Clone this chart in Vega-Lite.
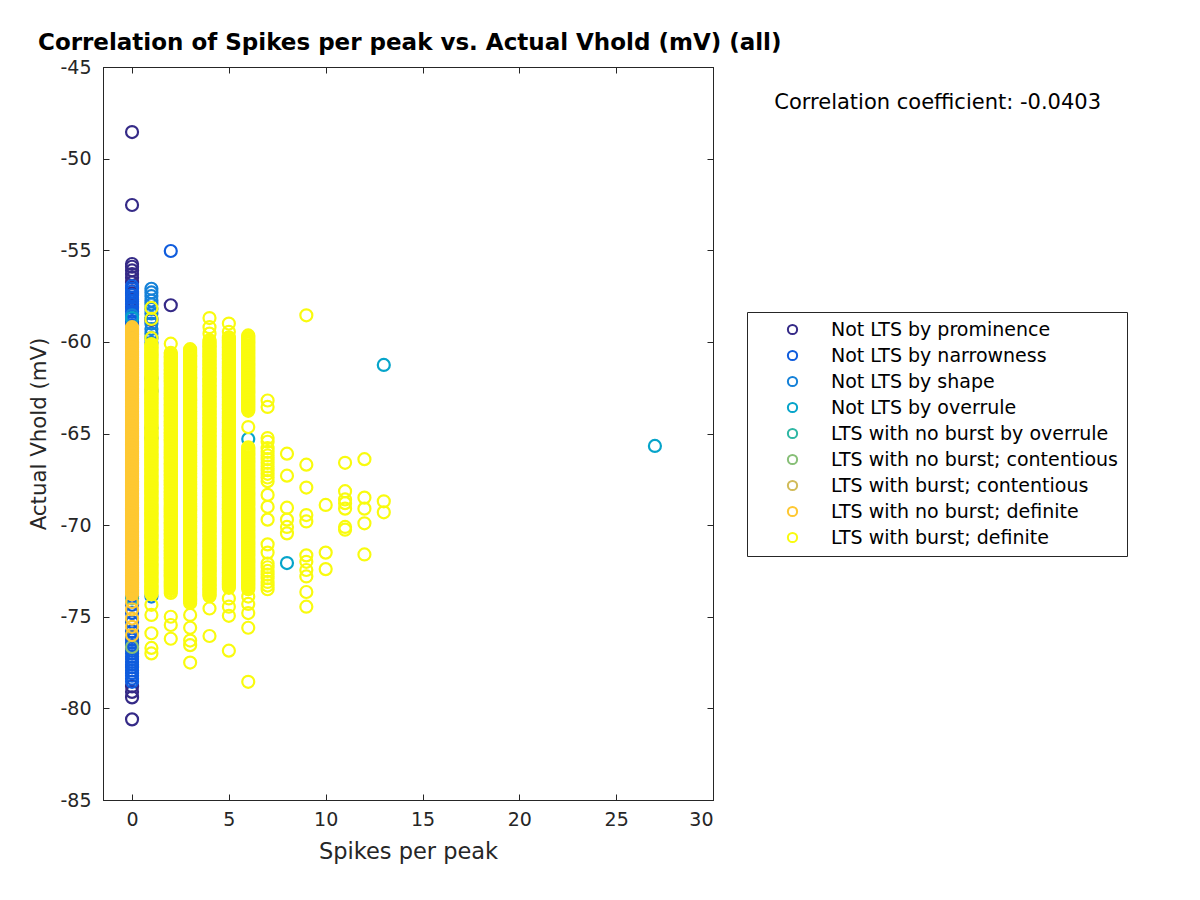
{
"$schema": "https://vega.github.io/schema/vega-lite/v6.json",
"width": 610,
"height": 733,
"autosize": {"type": "none"},
"padding": {"left": 103, "top": 67, "right": 487, "bottom": 100},
"background": "white",
"config": {
  "font": "DejaVu Sans",
  "locale": {"number": {"decimal": ".", "thousands": ",", "grouping": [3], "currency": ["$", ""], "minus": "-"}},
  "view": {"stroke": "#262626", "strokeWidth": 1},
  "axis": {"grid": false, "domainColor": "#262626", "tickColor": "#262626", "labelColor": "#262626", "titleColor": "#262626", "labelFont": "DejaVu Sans", "titleFont": "DejaVu Sans", "labelFontSize": 19, "titleFontSize": 21, "titleFontWeight": "normal", "tickSize": -6, "labelPadding": 16},
  "legend": {"title": null, "orient": "none", "legendX": 644, "legendY": 245, "strokeColor": "#262626", "fillColor": "white", "padding": 8, "labelFontSize": 19, "labelFont": "DejaVu Sans", "labelColor": "black", "symbolType": "circle", "symbolSize": 85, "symbolStrokeWidth": 2, "symbolOffset": 28, "labelOffset": 29, "rowPadding": 6, "labelLimit": 400}
},
"title": {"text": "Correlation of Spikes per peak vs. Actual Vhold (mV) (all)", "anchor": "start", "frame": "group", "dx": -65, "dy": 5, "offset": 8, "fontSize": 23, "fontWeight": "bold", "color": "black", "font": "DejaVu Sans"},
"resolve": {"axis": {"x": "independent", "y": "independent"}},
"datasets": {
  "classes": [
    {"k": 1, "label": "Not LTS by prominence"},
    {"k": 2, "label": "Not LTS by narrowness"},
    {"k": 3, "label": "Not LTS by shape"},
    {"k": 4, "label": "Not LTS by overrule"},
    {"k": 5, "label": "LTS with no burst by overrule"},
    {"k": 6, "label": "LTS with no burst; contentious"},
    {"k": 7, "label": "LTS with burst; contentious"},
    {"k": 8, "label": "LTS with no burst; definite"},
    {"k": 9, "label": "LTS with burst; definite"}
  ],
  "pts": [
{"s":0,"v":-48.55,"k":1},{"s":0,"v":-52.53,"k":1},{"s":0,"v":-55.75,"k":1},{"s":0,"v":-55.9,"k":1},{"s":0,"v":-56.1,"k":1},{"s":0,"v":-56.3,"k":1},{"s":0,"v":-56.5,"k":1},{"s":0,"v":-56.75,"k":1},{"s":0,"v":-57.05,"k":1},{"s":0,"v":-57.35,"k":1},{"s":0,"v":-57.7,"k":1},{"s":0,"v":-58.1,"k":1},{"s":0,"v":-78.8,"k":1},{"s":0,"v":-79.1,"k":1},{"s":0,"v":-79.4,"k":1},{"s":0,"v":-80.6,"k":1},{"s":1,"v":-58.8,"k":1},{"s":2,"v":-58.0,"k":1},
{"s":2,"v":-55.04,"k":2},
{"s":0,"v":-56.95,"k":2},{"s":0,"v":-57.1,"k":2},{"s":0,"v":-57.25,"k":2},{"s":0,"v":-57.45,"k":2},{"s":0,"v":-57.6,"k":2},{"s":0,"v":-57.8,"k":2},{"s":0,"v":-57.95,"k":2},{"s":0,"v":-58.15,"k":2},{"s":0,"v":-58.35,"k":2},{"s":0,"v":-58.5,"k":2},{"s":0,"v":-58.7,"k":2},{"s":0,"v":-58.9,"k":2},{"s":0,"v":-59.1,"k":2},
{"s":0,"v":-73.9,"k":2},{"s":0,"v":-74.35,"k":2},{"s":0,"v":-74.8,"k":2},{"s":0,"v":-75.3,"k":2},{"s":0,"v":-75.8,"k":2},{"s":0,"v":-76.1,"k":2},{"s":0,"v":-76.25,"k":2},{"s":0,"v":-76.42,"k":2},{"s":0,"v":-76.55,"k":2},{"s":0,"v":-76.72,"k":2},{"s":0,"v":-76.86,"k":2},{"s":0,"v":-77.0,"k":2},{"s":0,"v":-77.18,"k":2},{"s":0,"v":-77.31,"k":2},{"s":0,"v":-77.47,"k":2},{"s":0,"v":-77.62,"k":2},{"s":0,"v":-77.76,"k":2},{"s":0,"v":-77.93,"k":2},{"s":0,"v":-78.08,"k":2},{"s":0,"v":-78.22,"k":2},{"s":0,"v":-78.38,"k":2},{"s":0,"v":-78.55,"k":2},
{"s":0,"v":-58.55,"k":3},
{"s":1,"v":-57.1,"k":3},{"s":1,"v":-57.3,"k":3},{"s":1,"v":-57.5,"k":3},{"s":1,"v":-57.75,"k":3},{"s":1,"v":-57.95,"k":3},{"s":1,"v":-58.2,"k":3},{"s":1,"v":-58.45,"k":3},{"s":1,"v":-58.7,"k":3},{"s":1,"v":-59.0,"k":3},{"s":1,"v":-59.3,"k":3},{"s":1,"v":-59.55,"k":3},{"s":1,"v":-59.8,"k":3},{"s":1,"v":-60.05,"k":3},{"s":1,"v":-62.0,"k":3},{"s":1,"v":-62.7,"k":3},{"s":1,"v":-64.7,"k":3},{"s":1,"v":-65.25,"k":3},{"s":1,"v":-73.9,"k":3},
{"s":0,"v":-58.7,"k":4},{"s":6,"v":-65.3,"k":4},{"s":8,"v":-72.07,"k":4},{"s":13,"v":-61.26,"k":4},{"s":27,"v":-65.68,"k":4},
{"s":0,"v":-74.0,"k":5},
{"s":0,"v":-76.65,"k":6},
{"s":0,"v":-59.6,"k":7},
{"s":0,"v":-59.2,"k":8},{"s":0,"v":-59.34,"k":8},{"s":0,"v":-59.5,"k":8},{"s":0,"v":-59.63,"k":8},{"s":0,"v":-59.79,"k":8},{"s":0,"v":-59.95,"k":8},{"s":0,"v":-60.08,"k":8},{"s":0,"v":-60.24,"k":8},{"s":0,"v":-60.39,"k":8},{"s":0,"v":-60.52,"k":8},{"s":0,"v":-60.68,"k":8},{"s":0,"v":-60.83,"k":8},{"s":0,"v":-60.97,"k":8},{"s":0,"v":-61.13,"k":8},{"s":0,"v":-61.27,"k":8},{"s":0,"v":-61.42,"k":8},{"s":0,"v":-61.58,"k":8},{"s":0,"v":-61.71,"k":8},{"s":0,"v":-61.87,"k":8},{"s":0,"v":-62.02,"k":8},{"s":0,"v":-62.16,"k":8},{"s":0,"v":-62.32,"k":8},{"s":0,"v":-62.46,"k":8},{"s":0,"v":-62.61,"k":8},{"s":0,"v":-62.77,"k":8},{"s":0,"v":-62.9,"k":8},{"s":0,"v":-63.06,"k":8},{"s":0,"v":-63.21,"k":8},{"s":0,"v":-63.35,"k":8},{"s":0,"v":-63.51,"k":8},{"s":0,"v":-63.65,"k":8},{"s":0,"v":-63.8,"k":8},{"s":0,"v":-63.96,"k":8},{"s":0,"v":-64.09,"k":8},{"s":0,"v":-64.25,"k":8},{"s":0,"v":-64.4,"k":8},{"s":0,"v":-64.54,"k":8},{"s":0,"v":-64.7,"k":8},{"s":0,"v":-64.84,"k":8},{"s":0,"v":-64.99,"k":8},{"s":0,"v":-65.15,"k":8},{"s":0,"v":-65.28,"k":8},{"s":0,"v":-65.44,"k":8},{"s":0,"v":-65.59,"k":8},{"s":0,"v":-65.73,"k":8},{"s":0,"v":-65.89,"k":8},{"s":0,"v":-66.03,"k":8},{"s":0,"v":-66.18,"k":8},{"s":0,"v":-66.34,"k":8},{"s":0,"v":-66.47,"k":8},{"s":0,"v":-66.63,"k":8},{"s":0,"v":-66.78,"k":8},{"s":0,"v":-66.92,"k":8},{"s":0,"v":-67.08,"k":8},{"s":0,"v":-67.22,"k":8},{"s":0,"v":-67.37,"k":8},{"s":0,"v":-67.53,"k":8},{"s":0,"v":-67.66,"k":8},{"s":0,"v":-67.82,"k":8},{"s":0,"v":-67.97,"k":8},{"s":0,"v":-68.11,"k":8},{"s":0,"v":-68.27,"k":8},{"s":0,"v":-68.41,"k":8},{"s":0,"v":-68.56,"k":8},{"s":0,"v":-68.72,"k":8},{"s":0,"v":-68.85,"k":8},{"s":0,"v":-69.01,"k":8},{"s":0,"v":-69.16,"k":8},{"s":0,"v":-69.3,"k":8},{"s":0,"v":-69.46,"k":8},{"s":0,"v":-69.6,"k":8},{"s":0,"v":-69.75,"k":8},{"s":0,"v":-69.91,"k":8},{"s":0,"v":-70.04,"k":8},{"s":0,"v":-70.2,"k":8},{"s":0,"v":-70.35,"k":8},{"s":0,"v":-70.49,"k":8},{"s":0,"v":-70.65,"k":8},{"s":0,"v":-70.79,"k":8},{"s":0,"v":-70.94,"k":8},{"s":0,"v":-71.1,"k":8},{"s":0,"v":-71.23,"k":8},{"s":0,"v":-71.39,"k":8},{"s":0,"v":-71.54,"k":8},{"s":0,"v":-71.68,"k":8},{"s":0,"v":-71.84,"k":8},{"s":0,"v":-71.98,"k":8},{"s":0,"v":-72.13,"k":8},{"s":0,"v":-72.29,"k":8},{"s":0,"v":-72.42,"k":8},{"s":0,"v":-72.58,"k":8},{"s":0,"v":-72.73,"k":8},{"s":0,"v":-72.87,"k":8},{"s":0,"v":-73.03,"k":8},{"s":0,"v":-73.17,"k":8},{"s":0,"v":-73.32,"k":8},{"s":0,"v":-73.48,"k":8},{"s":0,"v":-73.61,"k":8},{"s":0,"v":-73.77,"k":8},{"s":0,"v":-74.2,"k":8},{"s":0,"v":-74.6,"k":8},{"s":0,"v":-75.1,"k":8},{"s":0,"v":-75.55,"k":8},{"s":0,"v":-76.0,"k":8},
{"s":0,"v":-59.27,"k":8},{"s":0,"v":-59.42,"k":8},{"s":0,"v":-59.56,"k":8},{"s":0,"v":-59.71,"k":8},{"s":0,"v":-59.87,"k":8},{"s":0,"v":-60.01,"k":8},{"s":0,"v":-60.16,"k":8},{"s":0,"v":-60.31,"k":8},{"s":0,"v":-60.45,"k":8},{"s":0,"v":-60.6,"k":8},{"s":0,"v":-60.75,"k":8},{"s":0,"v":-60.9,"k":8},{"s":0,"v":-61.05,"k":8},{"s":0,"v":-61.2,"k":8},{"s":0,"v":-61.35,"k":8},{"s":0,"v":-61.5,"k":8},{"s":0,"v":-61.64,"k":8},{"s":0,"v":-61.79,"k":8},{"s":0,"v":-61.94,"k":8},{"s":0,"v":-62.09,"k":8},{"s":0,"v":-62.24,"k":8},{"s":0,"v":-62.39,"k":8},{"s":0,"v":-62.54,"k":8},{"s":0,"v":-62.69,"k":8},{"s":0,"v":-62.83,"k":8},{"s":0,"v":-62.98,"k":8},{"s":0,"v":-63.13,"k":8},{"s":0,"v":-63.28,"k":8},{"s":0,"v":-63.43,"k":8},{"s":0,"v":-63.58,"k":8},{"s":0,"v":-63.72,"k":8},{"s":0,"v":-63.88,"k":8},{"s":0,"v":-64.03,"k":8},{"s":0,"v":-64.17,"k":8},{"s":0,"v":-64.32,"k":8},{"s":0,"v":-64.47,"k":8},{"s":0,"v":-64.62,"k":8},{"s":0,"v":-64.77,"k":8},{"s":0,"v":-64.91,"k":8},{"s":0,"v":-65.07,"k":8},{"s":0,"v":-65.21,"k":8},{"s":0,"v":-65.36,"k":8},{"s":0,"v":-65.51,"k":8},{"s":0,"v":-65.66,"k":8},{"s":0,"v":-65.81,"k":8},{"s":0,"v":-65.96,"k":8},{"s":0,"v":-66.1,"k":8},{"s":0,"v":-66.26,"k":8},{"s":0,"v":-66.4,"k":8},{"s":0,"v":-66.55,"k":8},{"s":0,"v":-66.7,"k":8},{"s":0,"v":-66.85,"k":8},{"s":0,"v":-67.0,"k":8},{"s":0,"v":-67.15,"k":8},{"s":0,"v":-67.3,"k":8},{"s":0,"v":-67.45,"k":8},{"s":0,"v":-67.6,"k":8},{"s":0,"v":-67.74,"k":8},{"s":0,"v":-67.89,"k":8},{"s":0,"v":-68.04,"k":8},{"s":0,"v":-68.19,"k":8},{"s":0,"v":-68.34,"k":8},{"s":0,"v":-68.49,"k":8},{"s":0,"v":-68.64,"k":8},{"s":0,"v":-68.78,"k":8},{"s":0,"v":-68.93,"k":8},{"s":0,"v":-69.08,"k":8},{"s":0,"v":-69.23,"k":8},{"s":0,"v":-69.38,"k":8},{"s":0,"v":-69.53,"k":8},{"s":0,"v":-69.68,"k":8},{"s":0,"v":-69.83,"k":8},{"s":0,"v":-69.97,"k":8},{"s":0,"v":-70.12,"k":8},{"s":0,"v":-70.27,"k":8},{"s":0,"v":-70.42,"k":8},{"s":0,"v":-70.57,"k":8},{"s":0,"v":-70.72,"k":8},{"s":0,"v":-70.87,"k":8},{"s":0,"v":-71.02,"k":8},{"s":0,"v":-71.16,"k":8},{"s":0,"v":-71.31,"k":8},{"s":0,"v":-71.46,"k":8},{"s":0,"v":-71.61,"k":8},{"s":0,"v":-71.76,"k":8},{"s":0,"v":-71.91,"k":8},{"s":0,"v":-72.05,"k":8},{"s":0,"v":-72.21,"k":8},{"s":0,"v":-72.35,"k":8},{"s":0,"v":-72.5,"k":8},{"s":0,"v":-72.65,"k":8},{"s":0,"v":-72.8,"k":8},{"s":0,"v":-72.95,"k":8},{"s":0,"v":-73.1,"k":8},{"s":0,"v":-73.25,"k":8},{"s":0,"v":-73.4,"k":8},{"s":0,"v":-73.54,"k":8},{"s":0,"v":-73.69,"k":8},
{"s":1,"v":-58.15,"k":9},{"s":1,"v":-58.75,"k":9},{"s":1,"v":-59.8,"k":9},{"s":1,"v":-60.12,"k":9},{"s":1,"v":-60.27,"k":9},{"s":1,"v":-60.41,"k":9},{"s":1,"v":-60.58,"k":9},{"s":1,"v":-60.71,"k":9},{"s":1,"v":-60.86,"k":9},{"s":1,"v":-61.03,"k":9},{"s":1,"v":-61.15,"k":9},{"s":1,"v":-61.31,"k":9},{"s":1,"v":-61.46,"k":9},{"s":1,"v":-61.6,"k":9},{"s":1,"v":-61.77,"k":9},{"s":1,"v":-61.9,"k":9},{"s":1,"v":-62.06,"k":9},{"s":1,"v":-62.21,"k":9},{"s":1,"v":-62.35,"k":9},{"s":1,"v":-62.52,"k":9},{"s":1,"v":-62.66,"k":9},{"s":1,"v":-62.8,"k":9},{"s":1,"v":-62.97,"k":9},{"s":1,"v":-63.1,"k":9},{"s":1,"v":-63.26,"k":9},{"s":1,"v":-63.41,"k":9},{"s":1,"v":-63.55,"k":9},{"s":1,"v":-63.72,"k":9},{"s":1,"v":-63.86,"k":9},{"s":1,"v":-64.0,"k":9},{"s":1,"v":-64.17,"k":9},{"s":1,"v":-64.3,"k":9},{"s":1,"v":-64.46,"k":9},{"s":1,"v":-64.61,"k":9},{"s":1,"v":-64.75,"k":9},{"s":1,"v":-64.92,"k":9},{"s":1,"v":-65.06,"k":9},{"s":1,"v":-65.2,"k":9},{"s":1,"v":-65.37,"k":9},{"s":1,"v":-65.5,"k":9},{"s":1,"v":-65.66,"k":9},{"s":1,"v":-65.81,"k":9},{"s":1,"v":-65.95,"k":9},{"s":1,"v":-66.12,"k":9},{"s":1,"v":-66.26,"k":9},{"s":1,"v":-66.4,"k":9},{"s":1,"v":-66.57,"k":9},{"s":1,"v":-66.7,"k":9},{"s":1,"v":-66.86,"k":9},{"s":1,"v":-67.01,"k":9},{"s":1,"v":-67.15,"k":9},{"s":1,"v":-67.32,"k":9},{"s":1,"v":-67.46,"k":9},{"s":1,"v":-67.6,"k":9},{"s":1,"v":-67.77,"k":9},{"s":1,"v":-67.9,"k":9},{"s":1,"v":-68.06,"k":9},{"s":1,"v":-68.21,"k":9},{"s":1,"v":-68.35,"k":9},{"s":1,"v":-68.52,"k":9},{"s":1,"v":-68.66,"k":9},{"s":1,"v":-68.8,"k":9},{"s":1,"v":-68.97,"k":9},{"s":1,"v":-69.1,"k":9},{"s":1,"v":-69.26,"k":9},{"s":1,"v":-69.41,"k":9},{"s":1,"v":-69.55,"k":9},{"s":1,"v":-69.72,"k":9},{"s":1,"v":-69.86,"k":9},{"s":1,"v":-70.0,"k":9},{"s":1,"v":-70.17,"k":9},{"s":1,"v":-70.3,"k":9},{"s":1,"v":-70.46,"k":9},{"s":1,"v":-70.61,"k":9},{"s":1,"v":-70.75,"k":9},{"s":1,"v":-70.92,"k":9},{"s":1,"v":-71.06,"k":9},{"s":1,"v":-71.2,"k":9},{"s":1,"v":-71.37,"k":9},{"s":1,"v":-71.5,"k":9},{"s":1,"v":-71.66,"k":9},{"s":1,"v":-71.81,"k":9},{"s":1,"v":-71.95,"k":9},{"s":1,"v":-72.12,"k":9},{"s":1,"v":-72.26,"k":9},{"s":1,"v":-72.4,"k":9},{"s":1,"v":-72.57,"k":9},{"s":1,"v":-72.7,"k":9},{"s":1,"v":-72.86,"k":9},{"s":1,"v":-73.01,"k":9},{"s":1,"v":-73.15,"k":9},{"s":1,"v":-73.32,"k":9},{"s":1,"v":-73.46,"k":9},{"s":1,"v":-73.6,"k":9},{"s":1,"v":-73.77,"k":9},{"s":1,"v":-74.35,"k":9},{"s":1,"v":-74.9,"k":9},{"s":1,"v":-75.9,"k":9},{"s":1,"v":-76.7,"k":9},{"s":1,"v":-77.0,"k":9},
{"s":1,"v":-60.2,"k":9},{"s":1,"v":-60.34,"k":9},{"s":1,"v":-60.5,"k":9},{"s":1,"v":-60.65,"k":9},{"s":1,"v":-60.79,"k":9},{"s":1,"v":-60.95,"k":9},{"s":1,"v":-61.09,"k":9},{"s":1,"v":-61.23,"k":9},{"s":1,"v":-61.39,"k":9},{"s":1,"v":-61.53,"k":9},{"s":1,"v":-61.69,"k":9},{"s":1,"v":-61.84,"k":9},{"s":1,"v":-61.98,"k":9},{"s":1,"v":-62.14,"k":9},{"s":1,"v":-62.28,"k":9},{"s":1,"v":-62.44,"k":9},{"s":1,"v":-62.59,"k":9},{"s":1,"v":-62.73,"k":9},{"s":1,"v":-62.89,"k":9},{"s":1,"v":-63.04,"k":9},{"s":1,"v":-63.18,"k":9},{"s":1,"v":-63.34,"k":9},{"s":1,"v":-63.48,"k":9},{"s":1,"v":-63.64,"k":9},{"s":1,"v":-63.79,"k":9},{"s":1,"v":-63.93,"k":9},{"s":1,"v":-64.09,"k":9},{"s":1,"v":-64.24,"k":9},{"s":1,"v":-64.38,"k":9},{"s":1,"v":-64.54,"k":9},{"s":1,"v":-64.68,"k":9},{"s":1,"v":-64.84,"k":9},{"s":1,"v":-64.99,"k":9},{"s":1,"v":-65.13,"k":9},{"s":1,"v":-65.29,"k":9},{"s":1,"v":-65.44,"k":9},{"s":1,"v":-65.58,"k":9},{"s":1,"v":-65.74,"k":9},{"s":1,"v":-65.88,"k":9},{"s":1,"v":-66.04,"k":9},{"s":1,"v":-66.19,"k":9},{"s":1,"v":-66.33,"k":9},{"s":1,"v":-66.49,"k":9},{"s":1,"v":-66.64,"k":9},{"s":1,"v":-66.78,"k":9},{"s":1,"v":-66.94,"k":9},{"s":1,"v":-67.08,"k":9},{"s":1,"v":-67.24,"k":9},{"s":1,"v":-67.39,"k":9},{"s":1,"v":-67.53,"k":9},{"s":1,"v":-67.69,"k":9},{"s":1,"v":-67.84,"k":9},{"s":1,"v":-67.98,"k":9},{"s":1,"v":-68.14,"k":9},{"s":1,"v":-68.28,"k":9},{"s":1,"v":-68.44,"k":9},{"s":1,"v":-68.59,"k":9},{"s":1,"v":-68.73,"k":9},{"s":1,"v":-68.89,"k":9},{"s":1,"v":-69.04,"k":9},{"s":1,"v":-69.18,"k":9},{"s":1,"v":-69.34,"k":9},{"s":1,"v":-69.48,"k":9},{"s":1,"v":-69.64,"k":9},{"s":1,"v":-69.79,"k":9},{"s":1,"v":-69.93,"k":9},{"s":1,"v":-70.09,"k":9},{"s":1,"v":-70.24,"k":9},{"s":1,"v":-70.38,"k":9},{"s":1,"v":-70.54,"k":9},{"s":1,"v":-70.68,"k":9},{"s":1,"v":-70.84,"k":9},{"s":1,"v":-70.99,"k":9},{"s":1,"v":-71.13,"k":9},{"s":1,"v":-71.29,"k":9},{"s":1,"v":-71.44,"k":9},{"s":1,"v":-71.58,"k":9},{"s":1,"v":-71.74,"k":9},{"s":1,"v":-71.88,"k":9},{"s":1,"v":-72.04,"k":9},{"s":1,"v":-72.19,"k":9},{"s":1,"v":-72.33,"k":9},{"s":1,"v":-72.49,"k":9},{"s":1,"v":-72.64,"k":9},{"s":1,"v":-72.78,"k":9},{"s":1,"v":-72.94,"k":9},{"s":1,"v":-73.08,"k":9},{"s":1,"v":-73.24,"k":9},{"s":1,"v":-73.39,"k":9},{"s":1,"v":-73.53,"k":9},{"s":1,"v":-73.69,"k":9},
{"s":2,"v":-60.1,"k":9},{"s":2,"v":-60.6,"k":9},{"s":2,"v":-60.76,"k":9},{"s":2,"v":-60.9,"k":9},{"s":2,"v":-61.07,"k":9},{"s":2,"v":-61.22,"k":9},{"s":2,"v":-61.36,"k":9},{"s":2,"v":-61.53,"k":9},{"s":2,"v":-61.68,"k":9},{"s":2,"v":-61.82,"k":9},{"s":2,"v":-61.99,"k":9},{"s":2,"v":-62.14,"k":9},{"s":2,"v":-62.28,"k":9},{"s":2,"v":-62.45,"k":9},{"s":2,"v":-62.6,"k":9},{"s":2,"v":-62.74,"k":9},{"s":2,"v":-62.91,"k":9},{"s":2,"v":-63.06,"k":9},{"s":2,"v":-63.2,"k":9},{"s":2,"v":-63.37,"k":9},{"s":2,"v":-63.52,"k":9},{"s":2,"v":-63.66,"k":9},{"s":2,"v":-63.83,"k":9},{"s":2,"v":-63.98,"k":9},{"s":2,"v":-64.12,"k":9},{"s":2,"v":-64.29,"k":9},{"s":2,"v":-64.44,"k":9},{"s":2,"v":-64.58,"k":9},{"s":2,"v":-64.75,"k":9},{"s":2,"v":-64.9,"k":9},{"s":2,"v":-65.04,"k":9},{"s":2,"v":-65.21,"k":9},{"s":2,"v":-65.36,"k":9},{"s":2,"v":-65.5,"k":9},{"s":2,"v":-65.67,"k":9},{"s":2,"v":-65.82,"k":9},{"s":2,"v":-65.96,"k":9},{"s":2,"v":-66.13,"k":9},{"s":2,"v":-66.28,"k":9},{"s":2,"v":-66.42,"k":9},{"s":2,"v":-66.59,"k":9},{"s":2,"v":-66.74,"k":9},{"s":2,"v":-66.88,"k":9},{"s":2,"v":-67.05,"k":9},{"s":2,"v":-67.2,"k":9},{"s":2,"v":-67.34,"k":9},{"s":2,"v":-67.51,"k":9},{"s":2,"v":-67.66,"k":9},{"s":2,"v":-67.8,"k":9},{"s":2,"v":-67.97,"k":9},{"s":2,"v":-68.12,"k":9},{"s":2,"v":-68.26,"k":9},{"s":2,"v":-68.43,"k":9},{"s":2,"v":-68.58,"k":9},{"s":2,"v":-68.72,"k":9},{"s":2,"v":-68.89,"k":9},{"s":2,"v":-69.04,"k":9},{"s":2,"v":-69.18,"k":9},{"s":2,"v":-69.35,"k":9},{"s":2,"v":-69.5,"k":9},{"s":2,"v":-69.64,"k":9},{"s":2,"v":-69.81,"k":9},{"s":2,"v":-69.96,"k":9},{"s":2,"v":-70.1,"k":9},{"s":2,"v":-70.27,"k":9},{"s":2,"v":-70.42,"k":9},{"s":2,"v":-70.56,"k":9},{"s":2,"v":-70.73,"k":9},{"s":2,"v":-70.88,"k":9},{"s":2,"v":-71.02,"k":9},{"s":2,"v":-71.19,"k":9},{"s":2,"v":-71.34,"k":9},{"s":2,"v":-71.48,"k":9},{"s":2,"v":-71.65,"k":9},{"s":2,"v":-71.8,"k":9},{"s":2,"v":-71.94,"k":9},{"s":2,"v":-72.11,"k":9},{"s":2,"v":-72.26,"k":9},{"s":2,"v":-72.4,"k":9},{"s":2,"v":-72.57,"k":9},{"s":2,"v":-72.72,"k":9},{"s":2,"v":-72.86,"k":9},{"s":2,"v":-73.03,"k":9},{"s":2,"v":-73.18,"k":9},{"s":2,"v":-73.32,"k":9},{"s":2,"v":-73.49,"k":9},{"s":2,"v":-73.7,"k":9},{"s":2,"v":-75.0,"k":9},{"s":2,"v":-75.45,"k":9},{"s":2,"v":-76.2,"k":9},
{"s":2,"v":-60.68,"k":9},{"s":2,"v":-60.83,"k":9},{"s":2,"v":-60.98,"k":9},{"s":2,"v":-61.15,"k":9},{"s":2,"v":-61.29,"k":9},{"s":2,"v":-61.45,"k":9},{"s":2,"v":-61.6,"k":9},{"s":2,"v":-61.75,"k":9},{"s":2,"v":-61.9,"k":9},{"s":2,"v":-62.06,"k":9},{"s":2,"v":-62.21,"k":9},{"s":2,"v":-62.36,"k":9},{"s":2,"v":-62.52,"k":9},{"s":2,"v":-62.67,"k":9},{"s":2,"v":-62.82,"k":9},{"s":2,"v":-62.98,"k":9},{"s":2,"v":-63.13,"k":9},{"s":2,"v":-63.28,"k":9},{"s":2,"v":-63.44,"k":9},{"s":2,"v":-63.59,"k":9},{"s":2,"v":-63.74,"k":9},{"s":2,"v":-63.9,"k":9},{"s":2,"v":-64.05,"k":9},{"s":2,"v":-64.2,"k":9},{"s":2,"v":-64.36,"k":9},{"s":2,"v":-64.51,"k":9},{"s":2,"v":-64.66,"k":9},{"s":2,"v":-64.82,"k":9},{"s":2,"v":-64.97,"k":9},{"s":2,"v":-65.12,"k":9},{"s":2,"v":-65.28,"k":9},{"s":2,"v":-65.43,"k":9},{"s":2,"v":-65.58,"k":9},{"s":2,"v":-65.74,"k":9},{"s":2,"v":-65.89,"k":9},{"s":2,"v":-66.04,"k":9},{"s":2,"v":-66.2,"k":9},{"s":2,"v":-66.35,"k":9},{"s":2,"v":-66.5,"k":9},{"s":2,"v":-66.66,"k":9},{"s":2,"v":-66.81,"k":9},{"s":2,"v":-66.96,"k":9},{"s":2,"v":-67.12,"k":9},{"s":2,"v":-67.27,"k":9},{"s":2,"v":-67.42,"k":9},{"s":2,"v":-67.58,"k":9},{"s":2,"v":-67.73,"k":9},{"s":2,"v":-67.88,"k":9},{"s":2,"v":-68.04,"k":9},{"s":2,"v":-68.19,"k":9},{"s":2,"v":-68.34,"k":9},{"s":2,"v":-68.5,"k":9},{"s":2,"v":-68.65,"k":9},{"s":2,"v":-68.8,"k":9},{"s":2,"v":-68.96,"k":9},{"s":2,"v":-69.11,"k":9},{"s":2,"v":-69.26,"k":9},{"s":2,"v":-69.42,"k":9},{"s":2,"v":-69.57,"k":9},{"s":2,"v":-69.72,"k":9},{"s":2,"v":-69.88,"k":9},{"s":2,"v":-70.03,"k":9},{"s":2,"v":-70.18,"k":9},{"s":2,"v":-70.34,"k":9},{"s":2,"v":-70.49,"k":9},{"s":2,"v":-70.64,"k":9},{"s":2,"v":-70.8,"k":9},{"s":2,"v":-70.95,"k":9},{"s":2,"v":-71.1,"k":9},{"s":2,"v":-71.26,"k":9},{"s":2,"v":-71.41,"k":9},{"s":2,"v":-71.56,"k":9},{"s":2,"v":-71.72,"k":9},{"s":2,"v":-71.87,"k":9},{"s":2,"v":-72.02,"k":9},{"s":2,"v":-72.18,"k":9},{"s":2,"v":-72.33,"k":9},{"s":2,"v":-72.48,"k":9},{"s":2,"v":-72.64,"k":9},{"s":2,"v":-72.79,"k":9},{"s":2,"v":-72.94,"k":9},{"s":2,"v":-73.1,"k":9},{"s":2,"v":-73.25,"k":9},{"s":2,"v":-73.4,"k":9},{"s":2,"v":-73.6,"k":9},
{"s":3,"v":-60.4,"k":9},{"s":3,"v":-60.55,"k":9},{"s":3,"v":-60.71,"k":9},{"s":3,"v":-60.84,"k":9},{"s":3,"v":-61.0,"k":9},{"s":3,"v":-61.15,"k":9},{"s":3,"v":-61.31,"k":9},{"s":3,"v":-61.44,"k":9},{"s":3,"v":-61.6,"k":9},{"s":3,"v":-61.75,"k":9},{"s":3,"v":-61.91,"k":9},{"s":3,"v":-62.04,"k":9},{"s":3,"v":-62.2,"k":9},{"s":3,"v":-62.35,"k":9},{"s":3,"v":-62.51,"k":9},{"s":3,"v":-62.64,"k":9},{"s":3,"v":-62.8,"k":9},{"s":3,"v":-62.95,"k":9},{"s":3,"v":-63.11,"k":9},{"s":3,"v":-63.24,"k":9},{"s":3,"v":-63.4,"k":9},{"s":3,"v":-63.55,"k":9},{"s":3,"v":-63.71,"k":9},{"s":3,"v":-63.84,"k":9},{"s":3,"v":-64.0,"k":9},{"s":3,"v":-64.15,"k":9},{"s":3,"v":-64.31,"k":9},{"s":3,"v":-64.44,"k":9},{"s":3,"v":-64.6,"k":9},{"s":3,"v":-64.75,"k":9},{"s":3,"v":-64.91,"k":9},{"s":3,"v":-65.04,"k":9},{"s":3,"v":-65.2,"k":9},{"s":3,"v":-65.35,"k":9},{"s":3,"v":-65.51,"k":9},{"s":3,"v":-65.64,"k":9},{"s":3,"v":-65.8,"k":9},{"s":3,"v":-65.95,"k":9},{"s":3,"v":-66.11,"k":9},{"s":3,"v":-66.24,"k":9},{"s":3,"v":-66.4,"k":9},{"s":3,"v":-66.55,"k":9},{"s":3,"v":-66.71,"k":9},{"s":3,"v":-66.84,"k":9},{"s":3,"v":-67.0,"k":9},{"s":3,"v":-67.15,"k":9},{"s":3,"v":-67.31,"k":9},{"s":3,"v":-67.44,"k":9},{"s":3,"v":-67.6,"k":9},{"s":3,"v":-67.75,"k":9},{"s":3,"v":-67.91,"k":9},{"s":3,"v":-68.04,"k":9},{"s":3,"v":-68.2,"k":9},{"s":3,"v":-68.35,"k":9},{"s":3,"v":-68.51,"k":9},{"s":3,"v":-68.64,"k":9},{"s":3,"v":-68.8,"k":9},{"s":3,"v":-68.95,"k":9},{"s":3,"v":-69.11,"k":9},{"s":3,"v":-69.24,"k":9},{"s":3,"v":-69.4,"k":9},{"s":3,"v":-69.55,"k":9},{"s":3,"v":-69.71,"k":9},{"s":3,"v":-69.84,"k":9},{"s":3,"v":-70.0,"k":9},{"s":3,"v":-70.15,"k":9},{"s":3,"v":-70.31,"k":9},{"s":3,"v":-70.44,"k":9},{"s":3,"v":-70.6,"k":9},{"s":3,"v":-70.75,"k":9},{"s":3,"v":-70.91,"k":9},{"s":3,"v":-71.04,"k":9},{"s":3,"v":-71.2,"k":9},{"s":3,"v":-71.35,"k":9},{"s":3,"v":-71.51,"k":9},{"s":3,"v":-71.64,"k":9},{"s":3,"v":-71.8,"k":9},{"s":3,"v":-71.95,"k":9},{"s":3,"v":-72.11,"k":9},{"s":3,"v":-72.24,"k":9},{"s":3,"v":-72.4,"k":9},{"s":3,"v":-72.55,"k":9},{"s":3,"v":-72.71,"k":9},{"s":3,"v":-72.84,"k":9},{"s":3,"v":-73.0,"k":9},{"s":3,"v":-73.15,"k":9},{"s":3,"v":-73.31,"k":9},{"s":3,"v":-73.44,"k":9},{"s":3,"v":-73.6,"k":9},{"s":3,"v":-73.75,"k":9},{"s":3,"v":-73.91,"k":9},{"s":3,"v":-74.06,"k":9},{"s":3,"v":-74.25,"k":9},{"s":3,"v":-74.9,"k":9},{"s":3,"v":-75.6,"k":9},{"s":3,"v":-76.3,"k":9},{"s":3,"v":-76.55,"k":9},{"s":3,"v":-77.5,"k":9},
{"s":3,"v":-60.48,"k":9},{"s":3,"v":-60.63,"k":9},{"s":3,"v":-60.78,"k":9},{"s":3,"v":-60.92,"k":9},{"s":3,"v":-61.08,"k":9},{"s":3,"v":-61.23,"k":9},{"s":3,"v":-61.38,"k":9},{"s":3,"v":-61.52,"k":9},{"s":3,"v":-61.68,"k":9},{"s":3,"v":-61.83,"k":9},{"s":3,"v":-61.98,"k":9},{"s":3,"v":-62.12,"k":9},{"s":3,"v":-62.28,"k":9},{"s":3,"v":-62.43,"k":9},{"s":3,"v":-62.58,"k":9},{"s":3,"v":-62.72,"k":9},{"s":3,"v":-62.88,"k":9},{"s":3,"v":-63.03,"k":9},{"s":3,"v":-63.18,"k":9},{"s":3,"v":-63.32,"k":9},{"s":3,"v":-63.48,"k":9},{"s":3,"v":-63.63,"k":9},{"s":3,"v":-63.78,"k":9},{"s":3,"v":-63.92,"k":9},{"s":3,"v":-64.08,"k":9},{"s":3,"v":-64.23,"k":9},{"s":3,"v":-64.38,"k":9},{"s":3,"v":-64.52,"k":9},{"s":3,"v":-64.68,"k":9},{"s":3,"v":-64.83,"k":9},{"s":3,"v":-64.98,"k":9},{"s":3,"v":-65.12,"k":9},{"s":3,"v":-65.28,"k":9},{"s":3,"v":-65.43,"k":9},{"s":3,"v":-65.58,"k":9},{"s":3,"v":-65.72,"k":9},{"s":3,"v":-65.88,"k":9},{"s":3,"v":-66.03,"k":9},{"s":3,"v":-66.18,"k":9},{"s":3,"v":-66.32,"k":9},{"s":3,"v":-66.48,"k":9},{"s":3,"v":-66.63,"k":9},{"s":3,"v":-66.78,"k":9},{"s":3,"v":-66.92,"k":9},{"s":3,"v":-67.08,"k":9},{"s":3,"v":-67.23,"k":9},{"s":3,"v":-67.38,"k":9},{"s":3,"v":-67.52,"k":9},{"s":3,"v":-67.68,"k":9},{"s":3,"v":-67.83,"k":9},{"s":3,"v":-67.98,"k":9},{"s":3,"v":-68.12,"k":9},{"s":3,"v":-68.28,"k":9},{"s":3,"v":-68.43,"k":9},{"s":3,"v":-68.58,"k":9},{"s":3,"v":-68.72,"k":9},{"s":3,"v":-68.88,"k":9},{"s":3,"v":-69.03,"k":9},{"s":3,"v":-69.18,"k":9},{"s":3,"v":-69.32,"k":9},{"s":3,"v":-69.48,"k":9},{"s":3,"v":-69.63,"k":9},{"s":3,"v":-69.78,"k":9},{"s":3,"v":-69.92,"k":9},{"s":3,"v":-70.08,"k":9},{"s":3,"v":-70.23,"k":9},{"s":3,"v":-70.38,"k":9},{"s":3,"v":-70.52,"k":9},{"s":3,"v":-70.68,"k":9},{"s":3,"v":-70.83,"k":9},{"s":3,"v":-70.98,"k":9},{"s":3,"v":-71.12,"k":9},{"s":3,"v":-71.28,"k":9},{"s":3,"v":-71.43,"k":9},{"s":3,"v":-71.58,"k":9},{"s":3,"v":-71.72,"k":9},{"s":3,"v":-71.88,"k":9},{"s":3,"v":-72.03,"k":9},{"s":3,"v":-72.18,"k":9},{"s":3,"v":-72.32,"k":9},{"s":3,"v":-72.48,"k":9},{"s":3,"v":-72.63,"k":9},{"s":3,"v":-72.78,"k":9},{"s":3,"v":-72.92,"k":9},{"s":3,"v":-73.08,"k":9},{"s":3,"v":-73.23,"k":9},{"s":3,"v":-73.38,"k":9},{"s":3,"v":-73.52,"k":9},{"s":3,"v":-73.68,"k":9},{"s":3,"v":-73.83,"k":9},{"s":3,"v":-73.98,"k":9},{"s":3,"v":-74.15,"k":9},
{"s":4,"v":-58.7,"k":9},{"s":4,"v":-59.2,"k":9},{"s":4,"v":-59.55,"k":9},{"s":4,"v":-59.9,"k":9},{"s":4,"v":-60.06,"k":9},{"s":4,"v":-60.21,"k":9},{"s":4,"v":-60.35,"k":9},{"s":4,"v":-60.52,"k":9},{"s":4,"v":-60.66,"k":9},{"s":4,"v":-60.81,"k":9},{"s":4,"v":-60.97,"k":9},{"s":4,"v":-61.12,"k":9},{"s":4,"v":-61.26,"k":9},{"s":4,"v":-61.43,"k":9},{"s":4,"v":-61.57,"k":9},{"s":4,"v":-61.72,"k":9},{"s":4,"v":-61.88,"k":9},{"s":4,"v":-62.03,"k":9},{"s":4,"v":-62.17,"k":9},{"s":4,"v":-62.34,"k":9},{"s":4,"v":-62.48,"k":9},{"s":4,"v":-62.63,"k":9},{"s":4,"v":-62.79,"k":9},{"s":4,"v":-62.94,"k":9},{"s":4,"v":-63.08,"k":9},{"s":4,"v":-63.25,"k":9},{"s":4,"v":-63.39,"k":9},{"s":4,"v":-63.54,"k":9},{"s":4,"v":-63.7,"k":9},{"s":4,"v":-63.85,"k":9},{"s":4,"v":-63.99,"k":9},{"s":4,"v":-64.16,"k":9},{"s":4,"v":-64.3,"k":9},{"s":4,"v":-64.45,"k":9},{"s":4,"v":-64.61,"k":9},{"s":4,"v":-64.76,"k":9},{"s":4,"v":-64.9,"k":9},{"s":4,"v":-65.07,"k":9},{"s":4,"v":-65.21,"k":9},{"s":4,"v":-65.36,"k":9},{"s":4,"v":-65.52,"k":9},{"s":4,"v":-65.67,"k":9},{"s":4,"v":-65.81,"k":9},{"s":4,"v":-65.98,"k":9},{"s":4,"v":-66.12,"k":9},{"s":4,"v":-66.27,"k":9},{"s":4,"v":-66.43,"k":9},{"s":4,"v":-66.58,"k":9},{"s":4,"v":-66.72,"k":9},{"s":4,"v":-66.89,"k":9},{"s":4,"v":-67.03,"k":9},{"s":4,"v":-67.18,"k":9},{"s":4,"v":-67.34,"k":9},{"s":4,"v":-67.49,"k":9},{"s":4,"v":-67.63,"k":9},{"s":4,"v":-67.8,"k":9},{"s":4,"v":-67.94,"k":9},{"s":4,"v":-68.09,"k":9},{"s":4,"v":-68.25,"k":9},{"s":4,"v":-68.4,"k":9},{"s":4,"v":-68.54,"k":9},{"s":4,"v":-68.71,"k":9},{"s":4,"v":-68.85,"k":9},{"s":4,"v":-69.0,"k":9},{"s":4,"v":-69.16,"k":9},{"s":4,"v":-69.31,"k":9},{"s":4,"v":-69.45,"k":9},{"s":4,"v":-69.62,"k":9},{"s":4,"v":-69.76,"k":9},{"s":4,"v":-69.91,"k":9},{"s":4,"v":-70.07,"k":9},{"s":4,"v":-70.22,"k":9},{"s":4,"v":-70.36,"k":9},{"s":4,"v":-70.53,"k":9},{"s":4,"v":-70.67,"k":9},{"s":4,"v":-70.82,"k":9},{"s":4,"v":-70.98,"k":9},{"s":4,"v":-71.13,"k":9},{"s":4,"v":-71.27,"k":9},{"s":4,"v":-71.44,"k":9},{"s":4,"v":-71.58,"k":9},{"s":4,"v":-71.73,"k":9},{"s":4,"v":-71.89,"k":9},{"s":4,"v":-72.04,"k":9},{"s":4,"v":-72.18,"k":9},{"s":4,"v":-72.35,"k":9},{"s":4,"v":-72.49,"k":9},{"s":4,"v":-72.64,"k":9},{"s":4,"v":-72.8,"k":9},{"s":4,"v":-72.95,"k":9},{"s":4,"v":-73.09,"k":9},{"s":4,"v":-73.26,"k":9},{"s":4,"v":-73.4,"k":9},{"s":4,"v":-73.55,"k":9},{"s":4,"v":-73.71,"k":9},{"s":4,"v":-73.88,"k":9},{"s":4,"v":-74.55,"k":9},{"s":4,"v":-76.05,"k":9},
{"s":4,"v":-59.98,"k":9},{"s":4,"v":-60.14,"k":9},{"s":4,"v":-60.28,"k":9},{"s":4,"v":-60.44,"k":9},{"s":4,"v":-60.59,"k":9},{"s":4,"v":-60.74,"k":9},{"s":4,"v":-60.89,"k":9},{"s":4,"v":-61.04,"k":9},{"s":4,"v":-61.19,"k":9},{"s":4,"v":-61.35,"k":9},{"s":4,"v":-61.5,"k":9},{"s":4,"v":-61.65,"k":9},{"s":4,"v":-61.8,"k":9},{"s":4,"v":-61.96,"k":9},{"s":4,"v":-62.1,"k":9},{"s":4,"v":-62.26,"k":9},{"s":4,"v":-62.41,"k":9},{"s":4,"v":-62.56,"k":9},{"s":4,"v":-62.71,"k":9},{"s":4,"v":-62.86,"k":9},{"s":4,"v":-63.01,"k":9},{"s":4,"v":-63.17,"k":9},{"s":4,"v":-63.32,"k":9},{"s":4,"v":-63.47,"k":9},{"s":4,"v":-63.62,"k":9},{"s":4,"v":-63.78,"k":9},{"s":4,"v":-63.92,"k":9},{"s":4,"v":-64.08,"k":9},{"s":4,"v":-64.23,"k":9},{"s":4,"v":-64.38,"k":9},{"s":4,"v":-64.53,"k":9},{"s":4,"v":-64.69,"k":9},{"s":4,"v":-64.83,"k":9},{"s":4,"v":-64.99,"k":9},{"s":4,"v":-65.14,"k":9},{"s":4,"v":-65.29,"k":9},{"s":4,"v":-65.44,"k":9},{"s":4,"v":-65.6,"k":9},{"s":4,"v":-65.74,"k":9},{"s":4,"v":-65.9,"k":9},{"s":4,"v":-66.05,"k":9},{"s":4,"v":-66.2,"k":9},{"s":4,"v":-66.35,"k":9},{"s":4,"v":-66.5,"k":9},{"s":4,"v":-66.65,"k":9},{"s":4,"v":-66.81,"k":9},{"s":4,"v":-66.96,"k":9},{"s":4,"v":-67.11,"k":9},{"s":4,"v":-67.26,"k":9},{"s":4,"v":-67.42,"k":9},{"s":4,"v":-67.56,"k":9},{"s":4,"v":-67.72,"k":9},{"s":4,"v":-67.87,"k":9},{"s":4,"v":-68.02,"k":9},{"s":4,"v":-68.17,"k":9},{"s":4,"v":-68.32,"k":9},{"s":4,"v":-68.47,"k":9},{"s":4,"v":-68.63,"k":9},{"s":4,"v":-68.78,"k":9},{"s":4,"v":-68.93,"k":9},{"s":4,"v":-69.08,"k":9},{"s":4,"v":-69.24,"k":9},{"s":4,"v":-69.38,"k":9},{"s":4,"v":-69.54,"k":9},{"s":4,"v":-69.69,"k":9},{"s":4,"v":-69.84,"k":9},{"s":4,"v":-69.99,"k":9},{"s":4,"v":-70.15,"k":9},{"s":4,"v":-70.29,"k":9},{"s":4,"v":-70.45,"k":9},{"s":4,"v":-70.6,"k":9},{"s":4,"v":-70.75,"k":9},{"s":4,"v":-70.9,"k":9},{"s":4,"v":-71.06,"k":9},{"s":4,"v":-71.2,"k":9},{"s":4,"v":-71.36,"k":9},{"s":4,"v":-71.51,"k":9},{"s":4,"v":-71.66,"k":9},{"s":4,"v":-71.81,"k":9},{"s":4,"v":-71.97,"k":9},{"s":4,"v":-72.11,"k":9},{"s":4,"v":-72.27,"k":9},{"s":4,"v":-72.42,"k":9},{"s":4,"v":-72.57,"k":9},{"s":4,"v":-72.72,"k":9},{"s":4,"v":-72.88,"k":9},{"s":4,"v":-73.02,"k":9},{"s":4,"v":-73.18,"k":9},{"s":4,"v":-73.33,"k":9},{"s":4,"v":-73.48,"k":9},{"s":4,"v":-73.63,"k":9},{"s":4,"v":-73.8,"k":9},
{"s":5,"v":-59.0,"k":9},{"s":5,"v":-59.45,"k":9},{"s":5,"v":-59.75,"k":9},{"s":5,"v":-59.9,"k":9},{"s":5,"v":-60.04,"k":9},{"s":5,"v":-60.21,"k":9},{"s":5,"v":-60.35,"k":9},{"s":5,"v":-60.5,"k":9},{"s":5,"v":-60.66,"k":9},{"s":5,"v":-60.8,"k":9},{"s":5,"v":-60.95,"k":9},{"s":5,"v":-61.12,"k":9},{"s":5,"v":-61.26,"k":9},{"s":5,"v":-61.41,"k":9},{"s":5,"v":-61.57,"k":9},{"s":5,"v":-61.71,"k":9},{"s":5,"v":-61.86,"k":9},{"s":5,"v":-62.03,"k":9},{"s":5,"v":-62.17,"k":9},{"s":5,"v":-62.32,"k":9},{"s":5,"v":-62.48,"k":9},{"s":5,"v":-62.62,"k":9},{"s":5,"v":-62.77,"k":9},{"s":5,"v":-62.94,"k":9},{"s":5,"v":-63.08,"k":9},{"s":5,"v":-63.23,"k":9},{"s":5,"v":-63.39,"k":9},{"s":5,"v":-63.53,"k":9},{"s":5,"v":-63.68,"k":9},{"s":5,"v":-63.85,"k":9},{"s":5,"v":-63.99,"k":9},{"s":5,"v":-64.14,"k":9},{"s":5,"v":-64.3,"k":9},{"s":5,"v":-64.44,"k":9},{"s":5,"v":-64.59,"k":9},{"s":5,"v":-64.76,"k":9},{"s":5,"v":-64.9,"k":9},{"s":5,"v":-65.05,"k":9},{"s":5,"v":-65.21,"k":9},{"s":5,"v":-65.35,"k":9},{"s":5,"v":-65.5,"k":9},{"s":5,"v":-65.67,"k":9},{"s":5,"v":-65.81,"k":9},{"s":5,"v":-65.96,"k":9},{"s":5,"v":-66.12,"k":9},{"s":5,"v":-66.26,"k":9},{"s":5,"v":-66.41,"k":9},{"s":5,"v":-66.58,"k":9},{"s":5,"v":-66.72,"k":9},{"s":5,"v":-66.87,"k":9},{"s":5,"v":-67.03,"k":9},{"s":5,"v":-67.17,"k":9},{"s":5,"v":-67.32,"k":9},{"s":5,"v":-67.49,"k":9},{"s":5,"v":-67.63,"k":9},{"s":5,"v":-67.78,"k":9},{"s":5,"v":-67.94,"k":9},{"s":5,"v":-68.08,"k":9},{"s":5,"v":-68.23,"k":9},{"s":5,"v":-68.4,"k":9},{"s":5,"v":-68.54,"k":9},{"s":5,"v":-68.69,"k":9},{"s":5,"v":-68.85,"k":9},{"s":5,"v":-68.99,"k":9},{"s":5,"v":-69.14,"k":9},{"s":5,"v":-69.31,"k":9},{"s":5,"v":-69.45,"k":9},{"s":5,"v":-69.6,"k":9},{"s":5,"v":-69.76,"k":9},{"s":5,"v":-69.9,"k":9},{"s":5,"v":-70.05,"k":9},{"s":5,"v":-70.22,"k":9},{"s":5,"v":-70.36,"k":9},{"s":5,"v":-70.51,"k":9},{"s":5,"v":-70.67,"k":9},{"s":5,"v":-70.81,"k":9},{"s":5,"v":-70.96,"k":9},{"s":5,"v":-71.13,"k":9},{"s":5,"v":-71.27,"k":9},{"s":5,"v":-71.42,"k":9},{"s":5,"v":-71.58,"k":9},{"s":5,"v":-71.72,"k":9},{"s":5,"v":-71.87,"k":9},{"s":5,"v":-72.04,"k":9},{"s":5,"v":-72.18,"k":9},{"s":5,"v":-72.33,"k":9},{"s":5,"v":-72.49,"k":9},{"s":5,"v":-72.63,"k":9},{"s":5,"v":-72.78,"k":9},{"s":5,"v":-72.95,"k":9},{"s":5,"v":-73.09,"k":9},{"s":5,"v":-73.24,"k":9},{"s":5,"v":-73.42,"k":9},{"s":5,"v":-74.0,"k":9},{"s":5,"v":-74.45,"k":9},{"s":5,"v":-74.95,"k":9},{"s":5,"v":-76.85,"k":9},
{"s":5,"v":-59.82,"k":9},{"s":5,"v":-59.97,"k":9},{"s":5,"v":-60.13,"k":9},{"s":5,"v":-60.28,"k":9},{"s":5,"v":-60.43,"k":9},{"s":5,"v":-60.58,"k":9},{"s":5,"v":-60.73,"k":9},{"s":5,"v":-60.88,"k":9},{"s":5,"v":-61.04,"k":9},{"s":5,"v":-61.19,"k":9},{"s":5,"v":-61.34,"k":9},{"s":5,"v":-61.49,"k":9},{"s":5,"v":-61.64,"k":9},{"s":5,"v":-61.79,"k":9},{"s":5,"v":-61.95,"k":9},{"s":5,"v":-62.1,"k":9},{"s":5,"v":-62.25,"k":9},{"s":5,"v":-62.4,"k":9},{"s":5,"v":-62.55,"k":9},{"s":5,"v":-62.7,"k":9},{"s":5,"v":-62.86,"k":9},{"s":5,"v":-63.01,"k":9},{"s":5,"v":-63.16,"k":9},{"s":5,"v":-63.31,"k":9},{"s":5,"v":-63.46,"k":9},{"s":5,"v":-63.61,"k":9},{"s":5,"v":-63.77,"k":9},{"s":5,"v":-63.92,"k":9},{"s":5,"v":-64.07,"k":9},{"s":5,"v":-64.22,"k":9},{"s":5,"v":-64.37,"k":9},{"s":5,"v":-64.52,"k":9},{"s":5,"v":-64.68,"k":9},{"s":5,"v":-64.83,"k":9},{"s":5,"v":-64.98,"k":9},{"s":5,"v":-65.13,"k":9},{"s":5,"v":-65.28,"k":9},{"s":5,"v":-65.43,"k":9},{"s":5,"v":-65.59,"k":9},{"s":5,"v":-65.74,"k":9},{"s":5,"v":-65.89,"k":9},{"s":5,"v":-66.04,"k":9},{"s":5,"v":-66.19,"k":9},{"s":5,"v":-66.34,"k":9},{"s":5,"v":-66.5,"k":9},{"s":5,"v":-66.65,"k":9},{"s":5,"v":-66.8,"k":9},{"s":5,"v":-66.95,"k":9},{"s":5,"v":-67.1,"k":9},{"s":5,"v":-67.25,"k":9},{"s":5,"v":-67.41,"k":9},{"s":5,"v":-67.56,"k":9},{"s":5,"v":-67.71,"k":9},{"s":5,"v":-67.86,"k":9},{"s":5,"v":-68.01,"k":9},{"s":5,"v":-68.16,"k":9},{"s":5,"v":-68.32,"k":9},{"s":5,"v":-68.47,"k":9},{"s":5,"v":-68.62,"k":9},{"s":5,"v":-68.77,"k":9},{"s":5,"v":-68.92,"k":9},{"s":5,"v":-69.07,"k":9},{"s":5,"v":-69.23,"k":9},{"s":5,"v":-69.38,"k":9},{"s":5,"v":-69.53,"k":9},{"s":5,"v":-69.68,"k":9},{"s":5,"v":-69.83,"k":9},{"s":5,"v":-69.98,"k":9},{"s":5,"v":-70.14,"k":9},{"s":5,"v":-70.29,"k":9},{"s":5,"v":-70.44,"k":9},{"s":5,"v":-70.59,"k":9},{"s":5,"v":-70.74,"k":9},{"s":5,"v":-70.89,"k":9},{"s":5,"v":-71.05,"k":9},{"s":5,"v":-71.2,"k":9},{"s":5,"v":-71.35,"k":9},{"s":5,"v":-71.5,"k":9},{"s":5,"v":-71.65,"k":9},{"s":5,"v":-71.8,"k":9},{"s":5,"v":-71.96,"k":9},{"s":5,"v":-72.11,"k":9},{"s":5,"v":-72.26,"k":9},{"s":5,"v":-72.41,"k":9},{"s":5,"v":-72.56,"k":9},{"s":5,"v":-72.71,"k":9},{"s":5,"v":-72.87,"k":9},{"s":5,"v":-73.02,"k":9},{"s":5,"v":-73.17,"k":9},{"s":5,"v":-73.33,"k":9},
{"s":6,"v":-59.65,"k":9},{"s":6,"v":-59.8,"k":9},{"s":6,"v":-59.96,"k":9},{"s":6,"v":-60.1,"k":9},{"s":6,"v":-60.27,"k":9},{"s":6,"v":-60.41,"k":9},{"s":6,"v":-60.56,"k":9},{"s":6,"v":-60.72,"k":9},{"s":6,"v":-60.87,"k":9},{"s":6,"v":-61.01,"k":9},{"s":6,"v":-61.18,"k":9},{"s":6,"v":-61.32,"k":9},{"s":6,"v":-61.47,"k":9},{"s":6,"v":-61.63,"k":9},{"s":6,"v":-61.78,"k":9},{"s":6,"v":-61.92,"k":9},{"s":6,"v":-62.09,"k":9},{"s":6,"v":-62.23,"k":9},{"s":6,"v":-62.38,"k":9},{"s":6,"v":-62.54,"k":9},{"s":6,"v":-62.69,"k":9},{"s":6,"v":-62.83,"k":9},{"s":6,"v":-63.0,"k":9},{"s":6,"v":-63.14,"k":9},{"s":6,"v":-63.29,"k":9},{"s":6,"v":-63.45,"k":9},{"s":6,"v":-63.6,"k":9},{"s":6,"v":-63.76,"k":9},{"s":6,"v":-64.65,"k":9},
{"s":6,"v":-59.72,"k":9},{"s":6,"v":-59.88,"k":9},{"s":6,"v":-60.03,"k":9},{"s":6,"v":-60.19,"k":9},{"s":6,"v":-60.34,"k":9},{"s":6,"v":-60.49,"k":9},{"s":6,"v":-60.64,"k":9},{"s":6,"v":-60.8,"k":9},{"s":6,"v":-60.94,"k":9},{"s":6,"v":-61.1,"k":9},{"s":6,"v":-61.25,"k":9},{"s":6,"v":-61.4,"k":9},{"s":6,"v":-61.55,"k":9},{"s":6,"v":-61.7,"k":9},{"s":6,"v":-61.85,"k":9},{"s":6,"v":-62.0,"k":9},{"s":6,"v":-62.16,"k":9},{"s":6,"v":-62.3,"k":9},{"s":6,"v":-62.46,"k":9},{"s":6,"v":-62.62,"k":9},{"s":6,"v":-62.76,"k":9},{"s":6,"v":-62.92,"k":9},{"s":6,"v":-63.07,"k":9},{"s":6,"v":-63.22,"k":9},{"s":6,"v":-63.37,"k":9},{"s":6,"v":-63.52,"k":9},{"s":6,"v":-63.68,"k":9},
{"s":6,"v":-65.75,"k":9},{"s":6,"v":-65.9,"k":9},{"s":6,"v":-66.06,"k":9},{"s":6,"v":-66.2,"k":9},{"s":6,"v":-66.37,"k":9},{"s":6,"v":-66.51,"k":9},{"s":6,"v":-66.66,"k":9},{"s":6,"v":-66.82,"k":9},{"s":6,"v":-66.97,"k":9},{"s":6,"v":-67.11,"k":9},{"s":6,"v":-67.28,"k":9},{"s":6,"v":-67.42,"k":9},{"s":6,"v":-67.57,"k":9},{"s":6,"v":-67.73,"k":9},{"s":6,"v":-67.88,"k":9},{"s":6,"v":-68.02,"k":9},{"s":6,"v":-68.19,"k":9},{"s":6,"v":-68.33,"k":9},{"s":6,"v":-68.48,"k":9},{"s":6,"v":-68.64,"k":9},{"s":6,"v":-68.79,"k":9},{"s":6,"v":-68.93,"k":9},{"s":6,"v":-69.1,"k":9},{"s":6,"v":-69.24,"k":9},{"s":6,"v":-69.39,"k":9},{"s":6,"v":-69.55,"k":9},{"s":6,"v":-69.7,"k":9},{"s":6,"v":-69.84,"k":9},{"s":6,"v":-70.01,"k":9},{"s":6,"v":-70.15,"k":9},{"s":6,"v":-70.3,"k":9},{"s":6,"v":-70.46,"k":9},{"s":6,"v":-70.61,"k":9},{"s":6,"v":-70.75,"k":9},{"s":6,"v":-70.92,"k":9},{"s":6,"v":-71.06,"k":9},{"s":6,"v":-71.21,"k":9},{"s":6,"v":-71.37,"k":9},{"s":6,"v":-71.52,"k":9},{"s":6,"v":-71.66,"k":9},{"s":6,"v":-71.83,"k":9},{"s":6,"v":-71.97,"k":9},{"s":6,"v":-72.12,"k":9},{"s":6,"v":-72.28,"k":9},{"s":6,"v":-72.43,"k":9},{"s":6,"v":-72.57,"k":9},{"s":6,"v":-72.74,"k":9},{"s":6,"v":-72.88,"k":9},{"s":6,"v":-73.03,"k":9},{"s":6,"v":-73.19,"k":9},{"s":6,"v":-73.34,"k":9},{"s":6,"v":-73.5,"k":9},{"s":6,"v":-73.9,"k":9},{"s":6,"v":-74.3,"k":9},{"s":6,"v":-74.8,"k":9},{"s":6,"v":-75.6,"k":9},{"s":6,"v":-78.55,"k":9},
{"s":6,"v":-65.82,"k":9},{"s":6,"v":-65.98,"k":9},{"s":6,"v":-66.13,"k":9},{"s":6,"v":-66.29,"k":9},{"s":6,"v":-66.44,"k":9},{"s":6,"v":-66.58,"k":9},{"s":6,"v":-66.74,"k":9},{"s":6,"v":-66.9,"k":9},{"s":6,"v":-67.04,"k":9},{"s":6,"v":-67.2,"k":9},{"s":6,"v":-67.35,"k":9},{"s":6,"v":-67.5,"k":9},{"s":6,"v":-67.65,"k":9},{"s":6,"v":-67.8,"k":9},{"s":6,"v":-67.95,"k":9},{"s":6,"v":-68.1,"k":9},{"s":6,"v":-68.26,"k":9},{"s":6,"v":-68.4,"k":9},{"s":6,"v":-68.56,"k":9},{"s":6,"v":-68.72,"k":9},{"s":6,"v":-68.86,"k":9},{"s":6,"v":-69.02,"k":9},{"s":6,"v":-69.17,"k":9},{"s":6,"v":-69.32,"k":9},{"s":6,"v":-69.47,"k":9},{"s":6,"v":-69.62,"k":9},{"s":6,"v":-69.77,"k":9},{"s":6,"v":-69.92,"k":9},{"s":6,"v":-70.08,"k":9},{"s":6,"v":-70.22,"k":9},{"s":6,"v":-70.38,"k":9},{"s":6,"v":-70.54,"k":9},{"s":6,"v":-70.68,"k":9},{"s":6,"v":-70.84,"k":9},{"s":6,"v":-70.99,"k":9},{"s":6,"v":-71.14,"k":9},{"s":6,"v":-71.29,"k":9},{"s":6,"v":-71.44,"k":9},{"s":6,"v":-71.59,"k":9},{"s":6,"v":-71.74,"k":9},{"s":6,"v":-71.9,"k":9},{"s":6,"v":-72.04,"k":9},{"s":6,"v":-72.2,"k":9},{"s":6,"v":-72.36,"k":9},{"s":6,"v":-72.5,"k":9},{"s":6,"v":-72.66,"k":9},{"s":6,"v":-72.81,"k":9},{"s":6,"v":-72.96,"k":9},{"s":6,"v":-73.11,"k":9},{"s":6,"v":-73.26,"k":9},{"s":6,"v":-73.42,"k":9},
{"s":7,"v":-63.2,"k":9},{"s":7,"v":-63.55,"k":9},{"s":7,"v":-65.25,"k":9},{"s":7,"v":-65.45,"k":9},{"s":7,"v":-65.8,"k":9},{"s":7,"v":-66.0,"k":9},{"s":7,"v":-66.2,"k":9},{"s":7,"v":-66.4,"k":9},{"s":7,"v":-66.6,"k":9},{"s":7,"v":-66.8,"k":9},{"s":7,"v":-67.0,"k":9},{"s":7,"v":-67.2,"k":9},{"s":7,"v":-67.4,"k":9},{"s":7,"v":-67.6,"k":9},{"s":7,"v":-68.35,"k":9},{"s":7,"v":-69.0,"k":9},{"s":7,"v":-69.7,"k":9},{"s":7,"v":-71.05,"k":9},{"s":7,"v":-71.5,"k":9},{"s":7,"v":-72.1,"k":9},{"s":7,"v":-72.3,"k":9},{"s":7,"v":-72.5,"k":9},{"s":7,"v":-72.7,"k":9},{"s":7,"v":-72.9,"k":9},{"s":7,"v":-73.1,"k":9},{"s":7,"v":-73.3,"k":9},{"s":7,"v":-73.5,"k":9},
{"s":8,"v":-66.1,"k":9},{"s":8,"v":-67.3,"k":9},{"s":8,"v":-69.05,"k":9},{"s":8,"v":-69.7,"k":9},{"s":8,"v":-70.1,"k":9},{"s":8,"v":-70.45,"k":9},
{"s":9,"v":-58.55,"k":9},{"s":9,"v":-66.7,"k":9},{"s":9,"v":-67.95,"k":9},{"s":9,"v":-69.45,"k":9},{"s":9,"v":-69.8,"k":9},{"s":9,"v":-71.65,"k":9},{"s":9,"v":-72.0,"k":9},{"s":9,"v":-72.45,"k":9},{"s":9,"v":-72.8,"k":9},{"s":9,"v":-73.65,"k":9},{"s":9,"v":-74.45,"k":9},
{"s":10,"v":-68.9,"k":9},{"s":10,"v":-71.5,"k":9},{"s":10,"v":-72.4,"k":9},
{"s":11,"v":-66.6,"k":9},{"s":11,"v":-68.15,"k":9},{"s":11,"v":-68.6,"k":9},{"s":11,"v":-68.8,"k":9},{"s":11,"v":-69.1,"k":9},{"s":11,"v":-70.1,"k":9},{"s":11,"v":-70.25,"k":9},
{"s":12,"v":-66.4,"k":9},{"s":12,"v":-68.5,"k":9},{"s":12,"v":-69.1,"k":9},{"s":12,"v":-69.9,"k":9},{"s":12,"v":-71.6,"k":9},
{"s":13,"v":-68.7,"k":9},{"s":13,"v":-69.3,"k":9}
  ]
},
"layer": [
  {
    "data": {"name": "pts"},
    "transform": [{"lookup": "k", "from": {"data": {"name": "classes"}, "key": "k", "fields": ["label"]}}],
    "mark": {"type": "point", "shape": "circle", "filled": false, "size": 144, "strokeWidth": 2.2, "opacity": 1},
    "encoding": {
      "x": {"field": "s", "type": "quantitative", "scale": {"domain": [-1.5, 30], "nice": false, "zero": false}, "axis": {"orient": "bottom", "values": [0, 5, 10, 15, 20, 25, 30], "title": "Spikes per peak", "labelPadding": 16, "titlePadding": 11, "titleFontSize": 22.5}},
      "y": {"field": "v", "type": "quantitative", "scale": {"domain": [-85, -45], "nice": false, "zero": false}, "axis": {"orient": "left", "values": [-85, -80, -75, -70, -65, -60, -55, -50, -45], "title": "Actual Vhold (mV)", "labelPadding": 18, "titlePadding": 10, "titleFontSize": 21.3}},
      "color": {"field": "label", "type": "nominal", "scale": {"domain": ["Not LTS by prominence", "Not LTS by narrowness", "Not LTS by shape", "Not LTS by overrule", "LTS with no burst by overrule", "LTS with no burst; contentious", "LTS with burst; contentious", "LTS with no burst; definite", "LTS with burst; definite"], "range": ["#352A87", "#0F5CDD", "#1481D8", "#06A4CA", "#2EB7A4", "#87BF77", "#D1BB59", "#FEC832", "#F9FB0E"]}}
    }
  },
  {
    "data": {"values": [{"note": "Correlation coefficient: -0.0403"}]},
    "mark": {"type": "text", "font": "DejaVu Sans", "fontSize": 21, "color": "black", "align": "center", "baseline": "middle"},
    "encoding": {
      "x": {"datum": 41.6, "type": "quantitative", "scale": {"domain": [-1.5, 30], "nice": false, "zero": false}, "axis": {"orient": "top", "labels": false, "title": null, "values": [0, 5, 10, 15, 20, 25, 30]}},
      "y": {"datum": -46.96, "type": "quantitative", "scale": {"domain": [-85, -45], "nice": false, "zero": false}, "axis": {"orient": "right", "labels": false, "title": null, "values": [-85, -80, -75, -70, -65, -60, -55, -50, -45]}},
      "text": {"field": "note"}
    }
  }
]
}
